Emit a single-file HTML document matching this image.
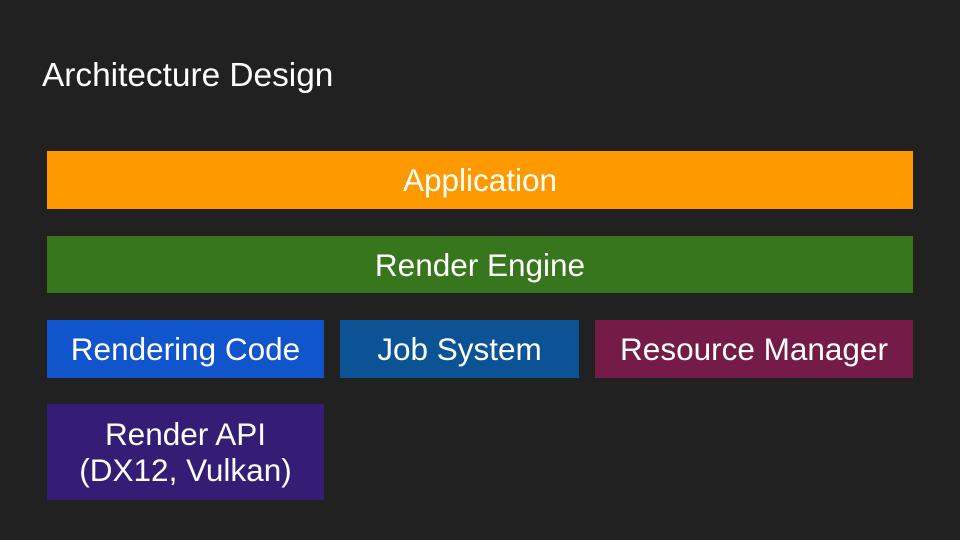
<!DOCTYPE html>
<html><head><style>
body{margin:0;width:960px;height:540px;background:#212121;position:relative;overflow:hidden;font-family:"Liberation Sans",sans-serif;color:#fff}
.t{position:absolute;left:42px;top:57px;font-size:33.4px}
.b{position:absolute;display:flex;align-items:center;justify-content:center;text-align:center;font-size:31.5px;line-height:36px}
</style></head><body>
<div class="t">Architecture Design</div>
<div class="b" style="left:47px;top:151px;width:866px;height:58px;background:#ff9900">Application</div>
<div class="b" style="left:47px;top:236px;width:866px;height:57px;background:#38761d">Render Engine</div>
<div class="b" style="left:47px;top:320px;width:277px;height:58px;background:#1155cc">Rendering Code</div>
<div class="b" style="left:340px;top:320px;width:239px;height:58px;background:#0b5394">Job System</div>
<div class="b" style="left:595px;top:320px;width:318px;height:58px;background:#741b47">Resource Manager</div>
<div class="b" style="left:47px;top:404px;width:277px;height:96px;background:#351c75">Render API<br>(DX12, Vulkan)</div>
</body></html>
